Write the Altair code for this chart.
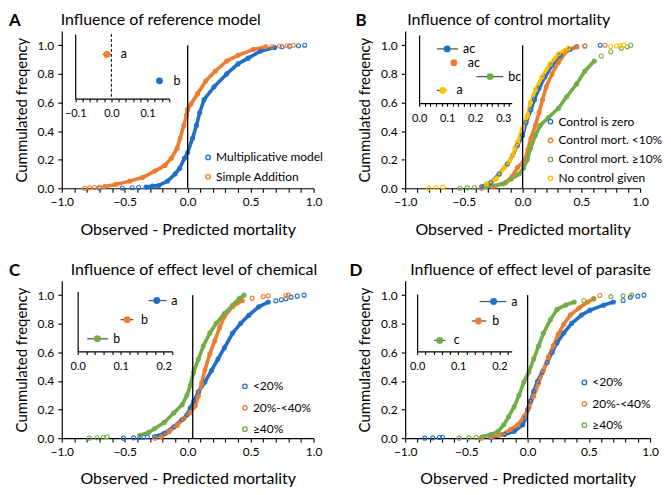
import altair as alt
import pandas as pd

FONT = "Lato"
BLUE = "#1F6FC8"
ORANGE = "#ED7D31"
GREEN = "#70AD47"
YELLOW = "#FFC000"
ERR = "#595959"

XTITLE = "Observed - Predicted mortality"
YTITLE = "Cummulated freqency"

# ---------------- Panel A : reference model ----------------
A_NAMES = ["Multiplicative model", "Simple Addition"]
A_MULT_X = [-0.33, -0.28, -0.23, -0.16, -0.10, -0.063, -0.026, 0.0, 0.039, 0.07, 0.096, 0.13, 0.21, 0.31, 0.40, 0.48, 0.58, 0.69]
A_MULT_F = [0.008, 0.015, 0.02, 0.05, 0.10, 0.14, 0.21, 0.25, 0.35, 0.44, 0.53, 0.62, 0.71, 0.80, 0.87, 0.91, 0.96, 0.985]
A_MULT_TX = [-0.70, -0.52, -0.44, -0.39, 0.75, 0.81, 0.88, 0.93]
A_MULT_TF = [0.0, 0.002, 0.004, 0.006, 0.99, 0.994, 0.997, 1.0]
A_ADD_X = [-0.66, -0.57, -0.46, -0.36, -0.26, -0.18, -0.13, -0.084, -0.06, -0.03, -0.01, 0.0, 0.026, 0.078, 0.143, 0.22, 0.31, 0.40, 0.52, 0.62]
A_ADD_F = [0.012, 0.027, 0.05, 0.075, 0.12, 0.16, 0.21, 0.28, 0.35, 0.44, 0.51, 0.55, 0.59, 0.66, 0.75, 0.82, 0.89, 0.93, 0.97, 0.99]
A_ADD_TX = [-0.82, -0.78, -0.74, -0.70, 0.67, 0.73, 0.79, 0.84]
A_ADD_TF = [0.0, 0.003, 0.006, 0.009, 0.992, 0.995, 0.997, 1.0]
A_INS_NAMES = ["Simple Addition", "Multiplicative model"]
A_INS_MEAN = [-0.0125, 0.133]
A_INS_LO = [-0.024, 0.126]
A_INS_HI = [-0.001, 0.141]
A_INS_LAB = ["a", "b"]

# ---------------- Panel B : control mortality ----------------
B_NAMES = ["Control is zero", "Control mort. <10%", "Control mort. \u226510%", "No control given"]
B_ZERO_X = [-0.35, -0.27, -0.20, -0.13, -0.085, -0.045, 0.0, 0.03, 0.07, 0.10, 0.14, 0.19, 0.25, 0.32, 0.40, 0.46]
B_ZERO_F = [0.01, 0.04, 0.10, 0.17, 0.23, 0.30, 0.37, 0.46, 0.55, 0.62, 0.70, 0.78, 0.86, 0.93, 0.97, 0.99]
B_ZERO_TX = [0.53, 0.66]
B_ZERO_TF = [0.995, 1.0]
B_LT10_X = [-0.25, -0.143, -0.087, -0.045, 0.02, 0.045, 0.07, 0.109, 0.14, 0.17, 0.20, 0.25, 0.305, 0.375, 0.46]
B_LT10_F = [0.011, 0.041, 0.086, 0.143, 0.2, 0.27, 0.35, 0.44, 0.53, 0.62, 0.71, 0.80, 0.88, 0.96, 0.99]
B_LT10_TX = [-0.35, 0.53, 0.70]
B_LT10_TF = [0.0, 0.995, 1.0]
B_GE10_X = [-0.31, -0.17, -0.10, -0.03, 0.008, 0.04, 0.067, 0.109, 0.15, 0.22, 0.305, 0.375, 0.46, 0.53, 0.61]
B_GE10_F = [0.011, 0.03, 0.064, 0.10, 0.143, 0.20, 0.28, 0.37, 0.44, 0.495, 0.56, 0.64, 0.73, 0.82, 0.89]
B_GE10_TX = [-0.535, -0.47, -0.41, 0.67, 0.75, 0.84, 0.89, 0.92]
B_GE10_TF = [0.0, 0.003, 0.006, 0.925, 0.955, 0.98, 0.99, 1.0]
B_NONE_X = [-0.31, -0.227, -0.157, -0.11, -0.085, -0.065, -0.045, -0.003, 0.04, 0.067, 0.109, 0.165, 0.235, 0.305, 0.39]
B_NONE_F = [0.03, 0.064, 0.143, 0.19, 0.23, 0.28, 0.32, 0.415, 0.506, 0.6, 0.69, 0.78, 0.87, 0.94, 0.98]
B_NONE_TX = [-0.80, -0.74, -0.68, 0.75, 0.80, 0.83, 0.86]
B_NONE_TF = [0.0, 0.004, 0.008, 0.99, 0.995, 0.998, 1.0]
B_INS_NAMES = B_NAMES
B_INS_MEAN = [0.10, 0.124, 0.253, 0.084]
B_INS_LO = [0.063, 0.117, 0.204, 0.063]
B_INS_HI = [0.139, 0.131, 0.30, 0.098]
B_INS_LAB = ["ac", "ac", "bc", "a"]

# ---------------- Panel C : effect level of chemical ----------------
C_NAMES = ["<20%", "20%-<40%", "\u226540%"]
C_LOW_X = [-0.264, -0.186, -0.109, -0.044, -0.005, 0.021, 0.047, 0.085, 0.137, 0.189, 0.24, 0.292, 0.357, 0.421, 0.486, 0.564, 0.64]
C_LOW_F = [0.01, 0.033, 0.08, 0.13, 0.164, 0.21, 0.256, 0.324, 0.393, 0.473, 0.553, 0.632, 0.735, 0.803, 0.86, 0.918, 0.952]
C_LOW_TX = [-0.51, -0.43, -0.38, -0.35, -0.32, 0.70, 0.744, 0.78, 0.82, 0.87, 0.925]
C_LOW_TF = [0.0, 0.002, 0.004, 0.006, 0.008, 0.96, 0.968, 0.975, 0.986, 0.993, 1.0]
C_MID_X = [-0.21, -0.147, -0.083, -0.031, 0.021, 0.06, 0.085, 0.111, 0.137, 0.176, 0.215, 0.253, 0.292, 0.357, 0.434]
C_MID_F = [0.01, 0.045, 0.09, 0.135, 0.18, 0.226, 0.295, 0.386, 0.477, 0.59, 0.681, 0.772, 0.852, 0.92, 0.963]
C_MID_TX = [-0.26, 0.512, 0.60, 0.64, 0.78, 0.80]
C_MID_TF = [0.0, 0.979, 0.99, 0.995, 0.998, 1.0]
C_HIGH_X = [-0.38, -0.31, -0.264, -0.186, -0.109, -0.044, -0.005, 0.021, 0.047, 0.085, 0.124, 0.176, 0.227, 0.292, 0.357, 0.408, 0.447]
C_HIGH_F = [0.02, 0.04, 0.066, 0.11, 0.178, 0.233, 0.301, 0.37, 0.461, 0.553, 0.644, 0.735, 0.803, 0.872, 0.929, 0.975, 1.0]
C_HIGH_TX = [-0.78, -0.72, -0.67, -0.64]
C_HIGH_TF = [0.0, 0.003, 0.006, 0.01]
C_INS_NAMES = ["<20%", "20%-<40%", "\u226540%"]
C_INS_MEAN = [0.184, 0.115, 0.046]
C_INS_LO = [0.165, 0.10, 0.022]
C_INS_HI = [0.206, 0.129, 0.071]
C_INS_LAB = ["a", "b", "b"]

# ---------------- Panel D : effect level of parasite ----------------
D_NAMES = C_NAMES
D_LOW_X = [-0.30, -0.19, -0.11, -0.04, -0.016, 0.0, 0.024, 0.05, 0.08, 0.12, 0.16, 0.20, 0.24, 0.295, 0.36, 0.44, 0.51, 0.62, 0.70]
D_LOW_F = [0.005, 0.025, 0.048, 0.093, 0.14, 0.20, 0.259, 0.327, 0.395, 0.463, 0.531, 0.60, 0.667, 0.735, 0.803, 0.861, 0.895, 0.93, 0.952]
D_LOW_TX = [-0.84, -0.775, -0.72, -0.695, 0.78, 0.84, 0.90, 0.95]
D_LOW_TF = [0.0, 0.002, 0.004, 0.006, 0.963, 0.986, 0.993, 1.0]
D_MID_X = [-0.30, -0.21, -0.14, -0.08, -0.03, 0.011, 0.05, 0.09, 0.13, 0.17, 0.21, 0.25, 0.295, 0.35, 0.42, 0.49, 0.54]
D_MID_F = [0.01, 0.025, 0.06, 0.093, 0.15, 0.215, 0.295, 0.385, 0.476, 0.567, 0.647, 0.726, 0.796, 0.862, 0.91, 0.952, 0.975]
D_MID_TX = [-0.38, 0.59]
D_MID_TF = [0.0, 0.998]
D_HIGH_X = [-0.37, -0.30, -0.24, -0.195, -0.155, -0.11, -0.07, -0.03, 0.011, 0.05, 0.09, 0.13, 0.186, 0.24, 0.31, 0.38]
D_HIGH_F = [0.01, 0.025, 0.048, 0.093, 0.15, 0.22, 0.30, 0.395, 0.463, 0.555, 0.646, 0.735, 0.828, 0.90, 0.93, 0.952]
D_HIGH_TX = [-0.56, -0.48, -0.42, 0.46, 0.54, 0.68, 0.78, 0.85]
D_HIGH_TF = [0.0, 0.002, 0.005, 0.963, 0.975, 0.99, 0.995, 1.0]
D_INS_NAMES = C_INS_NAMES
D_INS_MEAN = [0.186, 0.149, 0.055]
D_INS_LO = [0.152, 0.133, 0.041]
D_INS_HI = [0.217, 0.168, 0.069]
D_INS_LAB = ["a", "b", "c"]

MAIN_XTICKS = [round(i / 10, 1) for i in range(-10, 11)]
MAIN_YTICKS = [0.0, 0.2, 0.4, 0.6, 0.8, 1.0]


def cdf_rows(name, bx, bf, tx, tf):
    rows = [{"s": name, "x": x, "F": f, "part": "body"} for x, f in zip(bx, bf)]
    rows += [{"s": name, "x": x, "F": f, "part": "tail"} for x, f in zip(tx, tf)]
    return rows


def make_panel(letter, title, names, colors, rows, ins, zero_x, W, H, leg, title_dx, letter_dx):
    df = pd.DataFrame(rows)
    cs = alt.Scale(domain=names, range=colors)
    COL = alt.Color("s:N", scale=cs, legend=None)
    xs = alt.Scale(domain=[-1, 1], nice=False, zero=False)
    ys = alt.Scale(domain=[0, 1.1], nice=False, zero=False)
    xaxis = alt.Axis(orient="bottom", values=MAIN_XTICKS, title=XTITLE, grid=False,
                     labelExpr="abs(datum.value*2 - round(datum.value*2)) < 0.001 ? format(datum.value, '.1f') : ''",
                     tickSize=4, labelPadding=4, titlePadding=14, labelOverlap=False,
                     labelFlush=False, labelBound=False, titleFontSize=16)
    yaxis = alt.Axis(orient="left", values=MAIN_YTICKS, format=".1f", title=YTITLE, grid=False,
                     tickSize=4, labelPadding=4, titlePadding=8, titleFontSize=15)
    X = alt.X("x:Q", scale=xs, axis=xaxis)
    Y = alt.Y("F:Q", scale=ys, axis=yaxis)

    line = alt.Chart(df).transform_filter(alt.datum.part == "body").mark_line(
        strokeWidth=3.6, strokeCap="round", strokeJoin="round").encode(x=X, y=Y, color=COL, order="F:Q")
    pts = alt.Chart(df).mark_point(shape="circle", filled=False, size=16, strokeWidth=1.1, opacity=1).encode(
        x=X, y=Y, color=COL)
    rule = alt.Chart(pd.DataFrame({"x": [zero_x], "F": [0.0], "F2": [1.0]})).mark_rule(
        color="black", strokeWidth=1.3).encode(x=X, y=Y, y2="F2:Q")
    let = alt.Chart(pd.DataFrame({"t": [letter]})).mark_text(
        font=FONT, fontSize=17, fontWeight="bold", align="left", baseline="alphabetic", color="black").encode(
        text="t:N", x=alt.value(letter_dx), y=alt.value(-5))
    ttl = alt.Chart(pd.DataFrame({"t": [title]})).mark_text(
        font=FONT, fontSize=16, align="left", baseline="alphabetic", color="black").encode(
        text="t:N", x=alt.value(title_dx), y=alt.value(-6))
    main = alt.layer(line, pts, rule, let, ttl)

    # ---- inset: group means with error bars ----
    idf = pd.DataFrame({"s": ins["names"], "m": ins["mean"], "lo": ins["lo"], "hi": ins["hi"], "lab": ins["lab"]})
    n = len(ins["names"])
    span = ins["axis"] - ins["top"]
    pad = (span / ins["step"] - (n - 1)) / 2
    align = (ins["first"] - ins["top"]) / (span - ins["step"] * (n - 1))
    ppu = (ins["xrange"][1] - ins["xrange"][0]) / (ins["xdom"][1] - ins["xdom"][0])
    ixs = alt.Scale(domain=ins["xdom"], range=ins["xrange"], nice=False, zero=False)
    iys = alt.Scale(type="point", domain=ins["names"], range=[ins["top"], ins["axis"]], padding=pad, align=align)
    ixaxis = alt.Axis(orient="bottom", offset=-(H - ins["axis"]), values=ins["ticks"], title=None, grid=False,
                      labelExpr="abs(datum.value*10 - round(datum.value*10)) < 0.001 ? format(datum.value, '.1f') : ''",
                      tickSize=3, labelPadding=6, labelFontSize=11, labelOverlap=False, labelFlush=False,
                      labelBound=False)
    iyaxis = alt.Axis(orient="left", offset=-ins["xrange"][0], ticks=False, labels=False, title=None, grid=False)
    IY = alt.Y("s:N", scale=iys, axis=iyaxis)
    err = alt.Chart(idf).mark_rule(color=ERR, strokeWidth=1.3).encode(
        x=alt.X("lo:Q", scale=ixs, axis=ixaxis), x2="hi:Q", y=IY)
    ipts = alt.Chart(idf).mark_point(shape="circle", filled=True, size=48, opacity=1).encode(
        x=alt.X("m:Q", scale=ixs, axis=ixaxis), y=IY, color=COL)
    ilab = alt.Chart(idf).transform_calculate(
        lx=f"max(datum.m + {14 / ppu}, datum.hi + {5 / ppu})").mark_text(
        align="left", baseline="middle", font=FONT, fontSize=12.5, color="black").encode(
        x=alt.X("lx:Q", scale=ixs, axis=ixaxis), y=IY, text="lab:N")
    ilayers = [err, ipts, ilab]
    if ins.get("dashed"):
        dash = alt.Chart(pd.DataFrame({"z": [0.0]})).mark_rule(color="black", strokeWidth=1, strokeDash=[3, 2]).encode(
            x=alt.X("z:Q", scale=ixs, axis=ixaxis), y=alt.value(ins["top"]), y2=alt.value(ins["axis"]))
        ilayers.insert(0, dash)
    inset = alt.layer(*ilayers)

    # ---- legend (series names, open circles) ----
    ldf = pd.DataFrame({"s": names})
    LY = alt.Y("s:N", scale=alt.Scale(type="point", domain=names, range=[leg[1], leg[2]], padding=0), axis=None)
    lsym = alt.Chart(ldf).mark_point(shape="circle", filled=False, size=20, strokeWidth=1.3, opacity=1).encode(
        x=alt.value(leg[0]), y=LY, color=COL)
    ltxt = alt.Chart(ldf).mark_text(align="left", baseline="middle", font=FONT, fontSize=12, color="black").encode(
        x=alt.value(leg[0] + 8), y=LY, text="s:N")
    legend = alt.layer(lsym, ltxt)

    return alt.layer(main, inset, legend).resolve_scale(x="independent", y="independent").properties(
        width=W, height=H)


H = 158
W1 = 253
W_B = 236
W_D = 246

rowsA = cdf_rows(A_NAMES[0], A_MULT_X, A_MULT_F, A_MULT_TX, A_MULT_TF) + \
    cdf_rows(A_NAMES[1], A_ADD_X, A_ADD_F, A_ADD_TX, A_ADD_TF)
rowsB = cdf_rows(B_NAMES[0], B_ZERO_X, B_ZERO_F, B_ZERO_TX, B_ZERO_TF) + \
    cdf_rows(B_NAMES[1], B_LT10_X, B_LT10_F, B_LT10_TX, B_LT10_TF) + \
    cdf_rows(B_NAMES[2], B_GE10_X, B_GE10_F, B_GE10_TX, B_GE10_TF) + \
    cdf_rows(B_NAMES[3], B_NONE_X, B_NONE_F, B_NONE_TX, B_NONE_TF)
rowsC = cdf_rows(C_NAMES[0], C_LOW_X, C_LOW_F, C_LOW_TX, C_LOW_TF) + \
    cdf_rows(C_NAMES[1], C_MID_X, C_MID_F, C_MID_TX, C_MID_TF) + \
    cdf_rows(C_NAMES[2], C_HIGH_X, C_HIGH_F, C_HIGH_TX, C_HIGH_TF)
rowsD = cdf_rows(D_NAMES[0], D_LOW_X, D_LOW_F, D_LOW_TX, D_LOW_TF) + \
    cdf_rows(D_NAMES[1], D_MID_X, D_MID_F, D_MID_TX, D_MID_TF) + \
    cdf_rows(D_NAMES[2], D_HIGH_X, D_HIGH_F, D_HIGH_TX, D_HIGH_TF)

insA = dict(names=A_INS_NAMES, mean=A_INS_MEAN, lo=A_INS_LO, hi=A_INS_HI, lab=A_INS_LAB,
            xdom=[-0.1, 0.16], xrange=[13.5, 108], ticks=[round(-0.1 + 0.02 * i, 2) for i in range(14)],
            top=3, axis=68, first=23.5, step=26.6, dashed=True)
insB = dict(names=B_INS_NAMES, mean=B_INS_MEAN, lo=B_INS_LO, hi=B_INS_HI, lab=B_INS_LAB,
            xdom=[0, 0.33], xrange=[14, 107], ticks=[round(0.02 * i, 2) for i in range(17)],
            top=4, axis=72.5, first=18.0, step=13.9)
insC = dict(names=C_INS_NAMES, mean=C_INS_MEAN, lo=C_INS_LO, hi=C_INS_HI, lab=C_INS_LAB,
            xdom=[0, 0.22], xrange=[16, 111], ticks=[round(0.02 * i, 2) for i in range(12)],
            top=10.7, axis=70.9, first=19.8, step=19.2)
insD = dict(names=D_INS_NAMES, mean=D_INS_MEAN, lo=D_INS_LO, hi=D_INS_HI, lab=D_INS_LAB,
            xdom=[0, 0.23], xrange=[12, 107], ticks=[round(0.02 * i, 2) for i in range(12)],
            top=13.3, axis=70.9, first=20.8, step=19.5)

pA = make_panel("A", "Influence of reference model", A_NAMES, [BLUE, ORANGE], rowsA, insA, 0.0,
                W1, H, (147, 127, 146.5), -1, -53)
pB = make_panel("B", "Influence of control mortality", B_NAMES, [BLUE, ORANGE, GREEN, YELLOW], rowsB, insB, 0.0,
                W_B, H, (146, 91, 148), 2, -50)
pC = make_panel("C", "Influence of effect level of chemical", C_NAMES, [BLUE, ORANGE, GREEN], rowsC, insC, 0.04,
                W1, H, (184, 106, 149), 9, -53)
pD = make_panel("D", "Influence of effect level of parasite", D_NAMES, [BLUE, ORANGE, GREEN], rowsD, insD, 0.0,
                W_D, H, (180, 102, 145), 5, -56)

chart = alt.concat(pA, pB, pC, pD, columns=2, spacing=alt.RowColnumber(row=93, column=92),
                   bounds="flush").resolve_scale(color="independent").properties(
    padding={"left": 1, "top": 3, "right": 0, "bottom": 0}
).configure(font=FONT).configure_view(stroke=None).configure_axis(
    labelFont=FONT, titleFont=FONT, labelFontSize=12, titleFontWeight="normal",
    labelColor="black", titleColor="black", domainColor="black", tickColor="black",
    domainWidth=1.2, tickWidth=1.1, grid=False
)

chart.save("out.html", embed_options={"renderer": "svg", "actions": False})
